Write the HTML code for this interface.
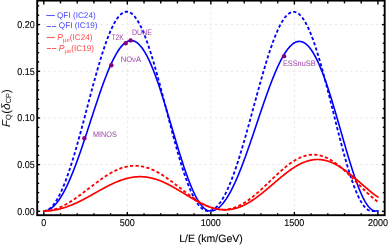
<!DOCTYPE html>
<html><head><meta charset="utf-8"><style>
html,body{margin:0;padding:0;background:#fff;width:389px;height:245px;overflow:hidden}
svg{display:block;font-family:"Liberation Sans",sans-serif;will-change:transform;text-rendering:geometricPrecision}
</style></head><body>
<svg width="389" height="245" viewBox="0 0 389 245">
<g stroke="#ebebeb" stroke-width="1" stroke-dasharray="2.7,2.5" fill="none">
<line x1="127.33" y1="1" x2="127.33" y2="214"/><line x1="210.85" y1="1" x2="210.85" y2="214"/><line x1="294.38" y1="1" x2="294.38" y2="214"/><line x1="38" y1="164.62" x2="384" y2="164.62"/><line x1="38" y1="117.95" x2="384" y2="117.95"/><line x1="38" y1="71.28" x2="384" y2="71.28"/><line x1="38" y1="24.60" x2="384" y2="24.60"/>
</g>
<g fill="none" stroke-linejoin="round">
<path d="M43.50,211.00 L44.17,210.97 L44.84,210.89 L45.51,210.75 L46.18,210.55 L46.85,210.30 L47.52,209.99 L48.19,209.62 L48.86,209.20 L49.53,208.72 L50.20,208.19 L50.87,207.59 L51.54,206.94 L52.21,206.24 L52.88,205.48 L53.55,204.66 L54.22,203.78 L54.89,202.85 L55.56,201.87 L56.23,200.83 L56.90,199.74 L57.57,198.59 L58.24,197.39 L58.91,196.14 L59.58,194.83 L60.25,193.47 L60.92,192.07 L61.59,190.61 L62.26,189.10 L62.93,187.54 L63.60,185.94 L64.27,184.28 L64.94,182.58 L65.61,180.84 L66.28,179.05 L66.95,177.22 L67.62,175.34 L68.29,173.42 L68.96,171.46 L69.63,169.47 L70.30,167.43 L70.97,165.36 L71.64,163.25 L72.31,161.11 L72.98,158.93 L73.65,156.72 L74.32,154.48 L74.99,152.21 L75.66,149.91 L76.33,147.59 L77.00,145.24 L77.67,142.87 L78.34,140.47 L79.01,138.05 L79.68,135.62 L80.35,133.17 L81.02,130.70 L81.69,128.21 L82.36,125.71 L83.03,123.20 L83.70,120.69 L84.37,118.16 L85.04,115.63 L85.71,113.09 L86.38,110.55 L87.05,108.00 L87.72,105.46 L88.39,102.92 L89.06,100.38 L89.73,97.85 L90.40,95.32 L91.07,92.81 L91.74,90.30 L92.41,87.80 L93.08,85.32 L93.75,82.86 L94.42,80.41 L95.09,77.98 L95.76,75.57 L96.43,73.19 L97.10,70.82 L97.77,68.49 L98.44,66.18 L99.11,63.89 L99.78,61.64 L100.45,59.42 L101.12,57.24 L101.79,55.09 L102.46,52.97 L103.13,50.90 L103.80,48.86 L104.47,46.87 L105.14,44.92 L105.81,43.01 L106.48,41.14 L107.15,39.33 L107.82,37.56 L108.49,35.84 L109.16,34.17 L109.83,32.55 L110.50,30.99 L111.17,29.48 L111.84,28.02 L112.51,26.62 L113.18,25.28 L113.85,24.00 L114.52,22.77 L115.19,21.61 L115.86,20.50 L116.53,19.46 L117.20,18.48 L117.87,17.57 L118.54,16.72 L119.21,15.93 L119.88,15.21 L120.55,14.55 L121.22,13.96 L121.89,13.44 L122.56,12.98 L123.23,12.60 L123.90,12.28 L124.57,12.03 L125.24,11.84 L125.91,11.73 L126.58,11.68 L127.25,11.71 L127.92,11.80 L128.59,11.96 L129.26,12.19 L129.93,12.49 L130.60,12.85 L131.27,13.29 L131.94,13.79 L132.61,14.36 L133.28,15.00 L133.95,15.70 L134.62,16.47 L135.29,17.31 L135.96,18.21 L136.63,19.17 L137.30,20.20 L137.97,21.30 L138.64,22.45 L139.31,23.67 L139.98,24.94 L140.65,26.28 L141.32,27.68 L141.99,29.13 L142.66,30.64 L143.33,32.21 L144.00,33.83 L144.67,35.50 L145.34,37.23 L146.01,39.00 L146.68,40.83 L147.35,42.71 L148.02,44.63 L148.69,46.60 L149.36,48.61 L150.03,50.67 L150.70,52.76 L151.37,54.90 L152.04,57.08 L152.71,59.29 L153.38,61.54 L154.05,63.82 L154.72,66.14 L155.39,68.48 L156.06,70.85 L156.73,73.25 L157.40,75.68 L158.07,78.13 L158.74,80.60 L159.41,83.09 L160.08,85.60 L160.75,88.13 L161.42,90.67 L162.09,93.23 L162.76,95.80 L163.43,98.37 L164.10,100.96 L164.77,103.55 L165.44,106.14 L166.11,108.74 L166.78,111.34 L167.45,113.94 L168.12,116.53 L168.79,119.12 L169.46,121.70 L170.13,124.28 L170.80,126.84 L171.47,129.39 L172.14,131.93 L172.81,134.46 L173.48,136.96 L174.15,139.45 L174.82,141.92 L175.49,144.37 L176.16,146.79 L176.83,149.19 L177.50,151.56 L178.17,153.90 L178.84,156.21 L179.51,158.49 L180.18,160.74 L180.85,162.96 L181.52,165.13 L182.19,167.28 L182.86,169.38 L183.53,171.44 L184.20,173.46 L184.87,175.44 L185.54,177.38 L186.21,179.27 L186.88,181.11 L187.55,182.91 L188.22,184.66 L188.89,186.36 L189.56,188.01 L190.23,189.61 L190.90,191.16 L191.57,192.65 L192.24,194.09 L192.91,195.48 L193.58,196.81 L194.25,198.08 L194.92,199.30 L195.59,200.45 L196.26,201.55 L196.93,202.60 L197.60,203.58 L198.27,204.50 L198.94,205.36 L199.61,206.17 L200.28,206.91 L200.95,207.59 L201.62,208.21 L202.29,208.76 L202.96,209.26 L203.63,209.69 L204.30,210.07 L204.97,210.37 L205.64,210.62 L206.31,210.81 L206.98,210.93 L207.65,210.99 L208.32,210.99 L208.99,210.94 L209.66,210.84 L210.33,210.69 L211.00,210.49 L211.67,210.23 L212.34,209.93 L213.01,209.57 L213.68,209.16 L214.35,208.70 L215.02,208.19 L215.69,207.62 L216.36,207.01 L217.03,206.34 L217.70,205.62 L218.37,204.85 L219.04,204.03 L219.71,203.16 L220.38,202.24 L221.05,201.27 L221.72,200.25 L222.39,199.17 L223.06,198.05 L223.73,196.88 L224.40,195.66 L225.07,194.40 L225.74,193.08 L226.41,191.72 L227.08,190.31 L227.75,188.86 L228.42,187.36 L229.09,185.82 L229.76,184.23 L230.43,182.60 L231.10,180.92 L231.77,179.21 L232.44,177.45 L233.11,175.66 L233.78,173.82 L234.45,171.95 L235.12,170.04 L235.79,168.09 L236.46,166.11 L237.13,164.09 L237.80,162.05 L238.47,159.96 L239.14,157.85 L239.81,155.71 L240.48,153.54 L241.15,151.34 L241.82,149.11 L242.49,146.86 L243.16,144.59 L243.83,142.29 L244.50,139.97 L245.17,137.63 L245.84,135.28 L246.51,132.90 L247.18,130.51 L247.85,128.11 L248.52,125.69 L249.19,123.26 L249.86,120.83 L250.53,118.38 L251.20,115.92 L251.87,113.46 L252.54,111.00 L253.21,108.53 L253.88,106.06 L254.55,103.60 L255.22,101.13 L255.89,98.67 L256.56,96.21 L257.23,93.76 L257.90,91.32 L258.57,88.89 L259.24,86.47 L259.91,84.06 L260.58,81.66 L261.25,79.29 L261.92,76.93 L262.59,74.59 L263.26,72.27 L263.93,69.97 L264.60,67.70 L265.27,65.45 L265.94,63.24 L266.61,61.04 L267.28,58.88 L267.95,56.75 L268.62,54.66 L269.29,52.60 L269.96,50.57 L270.63,48.58 L271.30,46.63 L271.97,44.73 L272.64,42.86 L273.31,41.03 L273.98,39.25 L274.65,37.52 L275.32,35.83 L275.99,34.20 L276.66,32.61 L277.33,31.07 L278.00,29.58 L278.67,28.15 L279.34,26.77 L280.01,25.44 L280.68,24.17 L281.35,22.96 L282.02,21.81 L282.69,20.72 L283.36,19.68 L284.03,18.71 L284.70,17.80 L285.37,16.95 L286.04,16.16 L286.71,15.44 L287.38,14.78 L288.05,14.19 L288.72,13.66 L289.39,13.20 L290.06,12.80 L290.73,12.48 L291.40,12.22 L292.07,12.02 L292.74,11.90 L293.41,11.84 L294.08,11.85 L294.75,11.93 L295.42,12.08 L296.09,12.30 L296.76,12.59 L297.43,12.94 L298.10,13.37 L298.77,13.86 L299.44,14.42 L300.11,15.05 L300.78,15.75 L301.45,16.51 L302.12,17.34 L302.79,18.24 L303.46,19.20 L304.13,20.23 L304.80,21.32 L305.47,22.48 L306.14,23.70 L306.81,24.98 L307.48,26.32 L308.15,27.73 L308.82,29.19 L309.49,30.72 L310.16,32.30 L310.83,33.94 L311.50,35.63 L312.17,37.38 L312.84,39.19 L313.51,41.04 L314.18,42.95 L314.85,44.91 L315.52,46.91 L316.19,48.97 L316.86,51.06 L317.53,53.21 L318.20,55.39 L318.87,57.62 L319.54,59.89 L320.21,62.19 L320.88,64.54 L321.55,66.91 L322.22,69.32 L322.89,71.76 L323.56,74.23 L324.23,76.73 L324.90,79.26 L325.57,81.81 L326.24,84.38 L326.91,86.97 L327.58,89.58 L328.25,92.21 L328.92,94.86 L329.59,97.51 L330.26,100.18 L330.93,102.86 L331.60,105.54 L332.27,108.23 L332.94,110.92 L333.61,113.62 L334.28,116.31 L334.95,119.00 L335.62,121.69 L336.29,124.37 L336.96,127.04 L337.63,129.70 L338.30,132.34 L338.97,134.98 L339.64,137.59 L340.31,140.19 L340.98,142.77 L341.65,145.32 L342.32,147.85 L342.99,150.36 L343.66,152.83 L344.33,155.28 L345.00,157.69 L345.67,160.07 L346.34,162.42 L347.01,164.72 L347.68,166.99 L348.35,169.22 L349.02,171.41 L349.69,173.55 L350.36,175.64 L351.03,177.69 L351.70,179.69 L352.37,181.64 L353.04,183.54 L353.71,185.38 L354.38,187.17 L355.05,188.91 L355.72,190.58 L356.39,192.20 L357.06,193.76 L357.73,195.26 L358.40,196.69 L359.07,198.06 L359.74,199.37 L360.41,200.61 L361.08,201.79 L361.75,202.89 L362.42,203.93 L363.09,204.91 L363.76,205.81 L364.43,206.64 L365.10,207.40 L365.77,208.09 L366.44,208.70 L367.11,209.25 L367.78,209.72 L368.45,210.12 L369.12,210.44 L369.79,210.69 L370.46,210.87 L371.13,210.97 L371.80,211.00 L372.47,211.00 L373.14,211.00 L373.81,211.00 L374.48,211.00 L375.15,211.00 L375.82,211.00 L376.49,211.00 L377.16,211.00 L377.83,211.00 L378.50,211.00" stroke="#0000ff" stroke-width="1.85" stroke-dasharray="3.2,2.3"/>
<path d="M43.50,211.00 L44.17,210.98 L44.84,210.92 L45.51,210.81 L46.18,210.67 L46.85,210.48 L47.52,210.26 L48.19,209.99 L48.86,209.67 L49.53,209.32 L50.20,208.93 L50.87,208.49 L51.54,208.01 L52.21,207.49 L52.88,206.92 L53.55,206.32 L54.22,205.67 L54.89,204.98 L55.56,204.25 L56.23,203.48 L56.90,202.67 L57.57,201.81 L58.24,200.92 L58.91,199.99 L59.58,199.01 L60.25,198.00 L60.92,196.95 L61.59,195.86 L62.26,194.73 L62.93,193.56 L63.60,192.36 L64.27,191.11 L64.94,189.83 L65.61,188.52 L66.28,187.17 L66.95,185.79 L67.62,184.37 L68.29,182.91 L68.96,181.43 L69.63,179.91 L70.30,178.36 L70.97,176.78 L71.64,175.17 L72.31,173.53 L72.98,171.86 L73.65,170.17 L74.32,168.45 L74.99,166.70 L75.66,164.92 L76.33,163.13 L77.00,161.31 L77.67,159.46 L78.34,157.60 L79.01,155.71 L79.68,153.81 L80.35,151.89 L81.02,149.95 L81.69,147.99 L82.36,146.02 L83.03,144.04 L83.70,142.04 L84.37,140.03 L85.04,138.01 L85.71,135.98 L86.38,133.94 L87.05,131.90 L87.72,129.85 L88.39,127.79 L89.06,125.73 L89.73,123.67 L90.40,121.61 L91.07,119.54 L91.74,117.48 L92.41,115.42 L93.08,113.37 L93.75,111.32 L94.42,109.27 L95.09,107.24 L95.76,105.21 L96.43,103.19 L97.10,101.18 L97.77,99.19 L98.44,97.21 L99.11,95.25 L99.78,93.30 L100.45,91.37 L101.12,89.46 L101.79,87.56 L102.46,85.69 L103.13,83.85 L103.80,82.02 L104.47,80.22 L105.14,78.45 L105.81,76.70 L106.48,74.99 L107.15,73.30 L107.82,71.64 L108.49,70.02 L109.16,68.43 L109.83,66.87 L110.50,65.35 L111.17,63.87 L111.84,62.42 L112.51,61.01 L113.18,59.64 L113.85,58.31 L114.52,57.02 L115.19,55.78 L115.86,54.57 L116.53,53.42 L117.20,52.30 L117.87,51.24 L118.54,50.22 L119.21,49.24 L119.88,48.32 L120.55,47.44 L121.22,46.62 L121.89,45.84 L122.56,45.12 L123.23,44.45 L123.90,43.83 L124.57,43.26 L125.24,42.74 L125.91,42.28 L126.58,41.87 L127.25,41.52 L127.92,41.22 L128.59,40.98 L129.26,40.80 L129.93,40.66 L130.60,40.59 L131.27,40.57 L131.94,40.61 L132.61,40.70 L133.28,40.85 L133.95,41.06 L134.62,41.32 L135.29,41.64 L135.96,42.02 L136.63,42.45 L137.30,42.94 L137.97,43.48 L138.64,44.08 L139.31,44.73 L139.98,45.44 L140.65,46.21 L141.32,47.03 L141.99,47.90 L142.66,48.82 L143.33,49.80 L144.00,50.83 L144.67,51.91 L145.34,53.04 L146.01,54.23 L146.68,55.46 L147.35,56.74 L148.02,58.07 L148.69,59.45 L149.36,60.87 L150.03,62.34 L150.70,63.85 L151.37,65.40 L152.04,67.00 L152.71,68.64 L153.38,70.32 L154.05,72.04 L154.72,73.80 L155.39,75.59 L156.06,77.42 L156.73,79.29 L157.40,81.18 L158.07,83.11 L158.74,85.07 L159.41,87.06 L160.08,89.08 L160.75,91.13 L161.42,93.19 L162.09,95.29 L162.76,97.40 L163.43,99.54 L164.10,101.70 L164.77,103.87 L165.44,106.06 L166.11,108.27 L166.78,110.49 L167.45,112.72 L168.12,114.96 L168.79,117.21 L169.46,119.46 L170.13,121.73 L170.80,123.99 L171.47,126.26 L172.14,128.53 L172.81,130.80 L173.48,133.06 L174.15,135.32 L174.82,137.58 L175.49,139.83 L176.16,142.06 L176.83,144.29 L177.50,146.51 L178.17,148.71 L178.84,150.89 L179.51,153.06 L180.18,155.21 L180.85,157.34 L181.52,159.45 L182.19,161.53 L182.86,163.59 L183.53,165.63 L184.20,167.63 L184.87,169.61 L185.54,171.55 L186.21,173.46 L186.88,175.34 L187.55,177.18 L188.22,178.99 L188.89,180.76 L189.56,182.49 L190.23,184.18 L190.90,185.83 L191.57,187.43 L192.24,188.99 L192.91,190.50 L193.58,191.97 L194.25,193.39 L194.92,194.77 L195.59,196.09 L196.26,197.36 L196.93,198.58 L197.60,199.75 L198.27,200.86 L198.94,201.92 L199.61,202.92 L200.28,203.87 L200.95,204.77 L201.62,205.60 L202.29,206.38 L202.96,207.09 L203.63,207.75 L204.30,208.35 L204.97,208.89 L205.64,209.37 L206.31,209.79 L206.98,210.14 L207.65,210.44 L208.32,210.67 L208.99,210.84 L209.66,210.95 L210.33,211.00 L211.00,210.99 L211.67,210.93 L212.34,210.83 L213.01,210.68 L213.68,210.49 L214.35,210.26 L215.02,209.98 L215.69,209.65 L216.36,209.28 L217.03,208.87 L217.70,208.41 L218.37,207.91 L219.04,207.37 L219.71,206.78 L220.38,206.15 L221.05,205.48 L221.72,204.77 L222.39,204.01 L223.06,203.21 L223.73,202.37 L224.40,201.49 L225.07,200.57 L225.74,199.61 L226.41,198.62 L227.08,197.58 L227.75,196.50 L228.42,195.39 L229.09,194.24 L229.76,193.05 L230.43,191.83 L231.10,190.57 L231.77,189.28 L232.44,187.95 L233.11,186.59 L233.78,185.20 L234.45,183.77 L235.12,182.32 L235.79,180.83 L236.46,179.32 L237.13,177.77 L237.80,176.20 L238.47,174.59 L239.14,172.97 L239.81,171.31 L240.48,169.63 L241.15,167.93 L241.82,166.20 L242.49,164.45 L243.16,162.68 L243.83,160.89 L244.50,159.08 L245.17,157.25 L245.84,155.41 L246.51,153.54 L247.18,151.66 L247.85,149.77 L248.52,147.86 L249.19,145.94 L249.86,144.01 L250.53,142.06 L251.20,140.11 L251.87,138.14 L252.54,136.17 L253.21,134.20 L253.88,132.21 L254.55,130.23 L255.22,128.24 L255.89,126.24 L256.56,124.25 L257.23,122.25 L257.90,120.26 L258.57,118.26 L259.24,116.28 L259.91,114.29 L260.58,112.31 L261.25,110.34 L261.92,108.37 L262.59,106.41 L263.26,104.46 L263.93,102.52 L264.60,100.60 L265.27,98.68 L265.94,96.79 L266.61,94.90 L267.28,93.03 L267.95,91.18 L268.62,89.35 L269.29,87.54 L269.96,85.74 L270.63,83.97 L271.30,82.22 L271.97,80.50 L272.64,78.80 L273.31,77.12 L273.98,75.48 L274.65,73.86 L275.32,72.27 L275.99,70.70 L276.66,69.17 L277.33,67.67 L278.00,66.21 L278.67,64.78 L279.34,63.38 L280.01,62.01 L280.68,60.69 L281.35,59.40 L282.02,58.15 L282.69,56.94 L283.36,55.76 L284.03,54.63 L284.70,53.54 L285.37,52.50 L286.04,51.49 L286.71,50.53 L287.38,49.61 L288.05,48.74 L288.72,47.92 L289.39,47.14 L290.06,46.41 L290.73,45.72 L291.40,45.09 L292.07,44.50 L292.74,43.96 L293.41,43.47 L294.08,43.04 L294.75,42.65 L295.42,42.32 L296.09,42.03 L296.76,41.80 L297.43,41.62 L298.10,41.50 L298.77,41.42 L299.44,41.40 L300.11,41.44 L300.78,41.53 L301.45,41.67 L302.12,41.86 L302.79,42.11 L303.46,42.42 L304.13,42.77 L304.80,43.18 L305.47,43.65 L306.14,44.17 L306.81,44.74 L307.48,45.37 L308.15,46.05 L308.82,46.79 L309.49,47.58 L310.16,48.42 L310.83,49.31 L311.50,50.26 L312.17,51.25 L312.84,52.30 L313.51,53.40 L314.18,54.55 L314.85,55.75 L315.52,57.00 L316.19,58.30 L316.86,59.64 L317.53,61.04 L318.20,62.48 L318.87,63.96 L319.54,65.49 L320.21,67.07 L320.88,68.68 L321.55,70.34 L322.22,72.05 L322.89,73.79 L323.56,75.57 L324.23,77.39 L324.90,79.25 L325.57,81.14 L326.24,83.07 L326.91,85.03 L327.58,87.03 L328.25,89.05 L328.92,91.11 L329.59,93.19 L330.26,95.31 L330.93,97.45 L331.60,99.61 L332.27,101.79 L332.94,104.00 L333.61,106.23 L334.28,108.47 L334.95,110.74 L335.62,113.02 L336.29,115.31 L336.96,117.61 L337.63,119.93 L338.30,122.25 L338.97,124.58 L339.64,126.92 L340.31,129.26 L340.98,131.60 L341.65,133.94 L342.32,136.28 L342.99,138.62 L343.66,140.95 L344.33,143.27 L345.00,145.59 L345.67,147.89 L346.34,150.18 L347.01,152.46 L347.68,154.72 L348.35,156.96 L349.02,159.18 L349.69,161.38 L350.36,163.55 L351.03,165.70 L351.70,167.82 L352.37,169.91 L353.04,171.97 L353.71,173.99 L354.38,175.98 L355.05,177.93 L355.72,179.85 L356.39,181.72 L357.06,183.55 L357.73,185.33 L358.40,187.07 L359.07,188.76 L359.74,190.40 L360.41,191.99 L361.08,193.53 L361.75,195.01 L362.42,196.44 L363.09,197.80 L363.76,199.11 L364.43,200.36 L365.10,201.54 L365.77,202.66 L366.44,203.72 L367.11,204.71 L367.78,205.63 L368.45,206.48 L369.12,207.26 L369.79,207.97 L370.46,208.61 L371.13,209.18 L371.80,209.67 L372.47,210.08 L373.14,210.42 L373.81,210.68 L374.48,210.87 L375.15,210.97 L375.82,211.00 L376.49,211.00 L377.16,211.00 L377.83,211.00 L378.50,211.00" stroke="#0000ff" stroke-width="1.6"/>
<path d="M43.50,211.00 L44.17,210.99 L44.84,210.97 L45.51,210.94 L46.18,210.90 L46.85,210.84 L47.52,210.77 L48.19,210.69 L48.86,210.59 L49.53,210.49 L50.20,210.37 L50.87,210.23 L51.54,210.09 L52.21,209.94 L52.88,209.77 L53.55,209.59 L54.22,209.40 L54.89,209.20 L55.56,208.99 L56.23,208.76 L56.90,208.53 L57.57,208.28 L58.24,208.03 L58.91,207.76 L59.58,207.48 L60.25,207.20 L60.92,206.90 L61.59,206.59 L62.26,206.28 L62.93,205.95 L63.60,205.62 L64.27,205.27 L64.94,204.92 L65.61,204.56 L66.28,204.19 L66.95,203.81 L67.62,203.43 L68.29,203.03 L68.96,202.63 L69.63,202.22 L70.30,201.81 L70.97,201.39 L71.64,200.96 L72.31,200.52 L72.98,200.08 L73.65,199.63 L74.32,199.18 L74.99,198.72 L75.66,198.25 L76.33,197.78 L77.00,197.31 L77.67,196.83 L78.34,196.35 L79.01,195.86 L79.68,195.37 L80.35,194.88 L81.02,194.38 L81.69,193.88 L82.36,193.37 L83.03,192.87 L83.70,192.36 L84.37,191.85 L85.04,191.34 L85.71,190.82 L86.38,190.31 L87.05,189.79 L87.72,189.28 L88.39,188.76 L89.06,188.25 L89.73,187.73 L90.40,187.21 L91.07,186.70 L91.74,186.18 L92.41,185.67 L93.08,185.16 L93.75,184.65 L94.42,184.14 L95.09,183.64 L95.76,183.13 L96.43,182.63 L97.10,182.13 L97.77,181.64 L98.44,181.15 L99.11,180.66 L99.78,180.18 L100.45,179.70 L101.12,179.23 L101.79,178.76 L102.46,178.29 L103.13,177.84 L103.80,177.38 L104.47,176.93 L105.14,176.49 L105.81,176.06 L106.48,175.63 L107.15,175.20 L107.82,174.79 L108.49,174.38 L109.16,173.98 L109.83,173.58 L110.50,173.20 L111.17,172.82 L111.84,172.45 L112.51,172.09 L113.18,171.73 L113.85,171.39 L114.52,171.05 L115.19,170.73 L115.86,170.41 L116.53,170.10 L117.20,169.80 L117.87,169.51 L118.54,169.23 L119.21,168.96 L119.88,168.70 L120.55,168.45 L121.22,168.21 L121.89,167.98 L122.56,167.77 L123.23,167.56 L123.90,167.36 L124.57,167.18 L125.24,167.00 L125.91,166.84 L126.58,166.69 L127.25,166.55 L127.92,166.42 L128.59,166.30 L129.26,166.19 L129.93,166.10 L130.60,166.02 L131.27,165.95 L131.94,165.89 L132.61,165.84 L133.28,165.80 L133.95,165.78 L134.62,165.77 L135.29,165.77 L135.96,165.78 L136.63,165.80 L137.30,165.84 L137.97,165.89 L138.64,165.95 L139.31,166.02 L139.98,166.10 L140.65,166.19 L141.32,166.30 L141.99,166.42 L142.66,166.55 L143.33,166.69 L144.00,166.84 L144.67,167.01 L145.34,167.18 L146.01,167.37 L146.68,167.57 L147.35,167.78 L148.02,168.00 L148.69,168.23 L149.36,168.47 L150.03,168.72 L150.70,168.98 L151.37,169.26 L152.04,169.54 L152.71,169.83 L153.38,170.14 L154.05,170.45 L154.72,170.77 L155.39,171.10 L156.06,171.44 L156.73,171.79 L157.40,172.15 L158.07,172.52 L158.74,172.90 L159.41,173.28 L160.08,173.68 L160.75,174.08 L161.42,174.48 L162.09,174.90 L162.76,175.32 L163.43,175.75 L164.10,176.19 L164.77,176.63 L165.44,177.08 L166.11,177.54 L166.78,178.00 L167.45,178.47 L168.12,178.94 L168.79,179.42 L169.46,179.90 L170.13,180.39 L170.80,180.88 L171.47,181.38 L172.14,181.88 L172.81,182.38 L173.48,182.89 L174.15,183.40 L174.82,183.91 L175.49,184.42 L176.16,184.94 L176.83,185.46 L177.50,185.97 L178.17,186.50 L178.84,187.02 L179.51,187.54 L180.18,188.06 L180.85,188.58 L181.52,189.11 L182.19,189.63 L182.86,190.15 L183.53,190.67 L184.20,191.19 L184.87,191.70 L185.54,192.22 L186.21,192.73 L186.88,193.24 L187.55,193.75 L188.22,194.25 L188.89,194.75 L189.56,195.25 L190.23,195.74 L190.90,196.23 L191.57,196.71 L192.24,197.19 L192.91,197.66 L193.58,198.13 L194.25,198.59 L194.92,199.05 L195.59,199.50 L196.26,199.94 L196.93,200.38 L197.60,200.81 L198.27,201.23 L198.94,201.64 L199.61,202.05 L200.28,202.44 L200.95,202.83 L201.62,203.21 L202.29,203.59 L202.96,203.95 L203.63,204.30 L204.30,204.65 L204.97,204.98 L205.64,205.30 L206.31,205.62 L206.98,205.92 L207.65,206.21 L208.32,206.49 L208.99,206.76 L209.66,207.02 L210.33,207.27 L211.00,207.51 L211.67,207.73 L212.34,207.94 L213.01,208.15 L213.68,208.33 L214.35,208.51 L215.02,208.67 L215.69,208.82 L216.36,208.96 L217.03,209.09 L217.70,209.20 L218.37,209.30 L219.04,209.39 L219.71,209.46 L220.38,209.52 L221.05,209.56 L221.72,209.60 L222.39,209.62 L223.06,209.62 L223.73,209.61 L224.40,209.59 L225.07,209.56 L225.74,209.51 L226.41,209.44 L227.08,209.37 L227.75,209.28 L228.42,209.17 L229.09,209.06 L229.76,208.92 L230.43,208.78 L231.10,208.62 L231.77,208.45 L232.44,208.26 L233.11,208.06 L233.78,207.85 L234.45,207.62 L235.12,207.38 L235.79,207.13 L236.46,206.86 L237.13,206.59 L237.80,206.29 L238.47,205.99 L239.14,205.67 L239.81,205.34 L240.48,205.00 L241.15,204.65 L241.82,204.28 L242.49,203.91 L243.16,203.52 L243.83,203.12 L244.50,202.71 L245.17,202.28 L245.84,201.85 L246.51,201.40 L247.18,200.95 L247.85,200.49 L248.52,200.01 L249.19,199.53 L249.86,199.03 L250.53,198.53 L251.20,198.02 L251.87,197.49 L252.54,196.96 L253.21,196.43 L253.88,195.88 L254.55,195.33 L255.22,194.77 L255.89,194.20 L256.56,193.62 L257.23,193.04 L257.90,192.45 L258.57,191.86 L259.24,191.26 L259.91,190.66 L260.58,190.05 L261.25,189.43 L261.92,188.82 L262.59,188.19 L263.26,187.57 L263.93,186.94 L264.60,186.31 L265.27,185.67 L265.94,185.04 L266.61,184.40 L267.28,183.76 L267.95,183.11 L268.62,182.47 L269.29,181.83 L269.96,181.19 L270.63,180.54 L271.30,179.90 L271.97,179.26 L272.64,178.62 L273.31,177.98 L273.98,177.34 L274.65,176.71 L275.32,176.08 L275.99,175.45 L276.66,174.82 L277.33,174.20 L278.00,173.58 L278.67,172.97 L279.34,172.36 L280.01,171.76 L280.68,171.16 L281.35,170.57 L282.02,169.99 L282.69,169.41 L283.36,168.83 L284.03,168.27 L284.70,167.71 L285.37,167.16 L286.04,166.62 L286.71,166.09 L287.38,165.56 L288.05,165.05 L288.72,164.54 L289.39,164.05 L290.06,163.56 L290.73,163.09 L291.40,162.62 L292.07,162.17 L292.74,161.72 L293.41,161.29 L294.08,160.87 L294.75,160.46 L295.42,160.07 L296.09,159.68 L296.76,159.31 L297.43,158.95 L298.10,158.61 L298.77,158.28 L299.44,157.96 L300.11,157.65 L300.78,157.36 L301.45,157.09 L302.12,156.83 L302.79,156.58 L303.46,156.34 L304.13,156.13 L304.80,155.92 L305.47,155.73 L306.14,155.56 L306.81,155.40 L307.48,155.26 L308.15,155.13 L308.82,155.02 L309.49,154.92 L310.16,154.84 L310.83,154.78 L311.50,154.73 L312.17,154.69 L312.84,154.68 L313.51,154.68 L314.18,154.69 L314.85,154.72 L315.52,154.77 L316.19,154.83 L316.86,154.91 L317.53,155.00 L318.20,155.11 L318.87,155.24 L319.54,155.38 L320.21,155.54 L320.88,155.71 L321.55,155.90 L322.22,156.11 L322.89,156.33 L323.56,156.56 L324.23,156.81 L324.90,157.08 L325.57,157.36 L326.24,157.65 L326.91,157.96 L327.58,158.28 L328.25,158.62 L328.92,158.97 L329.59,159.34 L330.26,159.72 L330.93,160.11 L331.60,160.51 L332.27,160.93 L332.94,161.36 L333.61,161.81 L334.28,162.26 L334.95,162.73 L335.62,163.21 L336.29,163.70 L336.96,164.21 L337.63,164.72 L338.30,165.24 L338.97,165.78 L339.64,166.32 L340.31,166.88 L340.98,167.44 L341.65,168.01 L342.32,168.59 L342.99,169.18 L343.66,169.78 L344.33,170.38 L345.00,170.99 L345.67,171.61 L346.34,172.24 L347.01,172.87 L347.68,173.51 L348.35,174.15 L349.02,174.80 L349.69,175.45 L350.36,176.11 L351.03,176.77 L351.70,177.43 L352.37,178.10 L353.04,178.77 L353.71,179.44 L354.38,180.12 L355.05,180.79 L355.72,181.47 L356.39,182.15 L357.06,182.83 L357.73,183.50 L358.40,184.18 L359.07,184.86 L359.74,185.53 L360.41,186.21 L361.08,186.88 L361.75,187.55 L362.42,188.21 L363.09,188.87 L363.76,189.53 L364.43,190.19 L365.10,190.84 L365.77,191.48 L366.44,192.12 L367.11,192.76 L367.78,193.38 L368.45,194.00 L369.12,194.62 L369.79,195.23 L370.46,195.83 L371.13,196.42 L371.80,197.00 L372.47,197.57 L373.14,198.14 L373.81,198.70 L374.48,199.24 L375.15,199.78 L375.82,200.30 L376.49,200.82 L377.16,201.32 L377.83,201.81 L378.50,202.30" stroke="#ff0000" stroke-width="1.85" stroke-dasharray="3.2,2.3"/>
<path d="M43.50,211.00 L44.17,211.00 L44.84,210.99 L45.51,210.97 L46.18,210.95 L46.85,210.92 L47.52,210.88 L48.19,210.83 L48.86,210.78 L49.53,210.72 L50.20,210.66 L50.87,210.59 L51.54,210.51 L52.21,210.42 L52.88,210.33 L53.55,210.23 L54.22,210.12 L54.89,210.01 L55.56,209.89 L56.23,209.76 L56.90,209.62 L57.57,209.48 L58.24,209.33 L58.91,209.18 L59.58,209.02 L60.25,208.85 L60.92,208.67 L61.59,208.49 L62.26,208.30 L62.93,208.11 L63.60,207.90 L64.27,207.70 L64.94,207.48 L65.61,207.26 L66.28,207.03 L66.95,206.80 L67.62,206.56 L68.29,206.32 L68.96,206.07 L69.63,205.81 L70.30,205.55 L70.97,205.28 L71.64,205.01 L72.31,204.73 L72.98,204.44 L73.65,204.15 L74.32,203.86 L74.99,203.56 L75.66,203.26 L76.33,202.95 L77.00,202.63 L77.67,202.32 L78.34,202.00 L79.01,201.67 L79.68,201.34 L80.35,201.01 L81.02,200.67 L81.69,200.33 L82.36,199.98 L83.03,199.63 L83.70,199.28 L84.37,198.93 L85.04,198.57 L85.71,198.21 L86.38,197.85 L87.05,197.49 L87.72,197.12 L88.39,196.75 L89.06,196.38 L89.73,196.01 L90.40,195.64 L91.07,195.27 L91.74,194.89 L92.41,194.52 L93.08,194.14 L93.75,193.76 L94.42,193.38 L95.09,193.01 L95.76,192.63 L96.43,192.25 L97.10,191.87 L97.77,191.50 L98.44,191.12 L99.11,190.75 L99.78,190.37 L100.45,190.00 L101.12,189.63 L101.79,189.26 L102.46,188.90 L103.13,188.53 L103.80,188.17 L104.47,187.81 L105.14,187.45 L105.81,187.10 L106.48,186.75 L107.15,186.40 L107.82,186.06 L108.49,185.71 L109.16,185.38 L109.83,185.04 L110.50,184.72 L111.17,184.39 L111.84,184.07 L112.51,183.76 L113.18,183.45 L113.85,183.14 L114.52,182.84 L115.19,182.55 L115.86,182.26 L116.53,181.97 L117.20,181.70 L117.87,181.42 L118.54,181.16 L119.21,180.90 L119.88,180.65 L120.55,180.40 L121.22,180.16 L121.89,179.93 L122.56,179.71 L123.23,179.49 L123.90,179.28 L124.57,179.08 L125.24,178.88 L125.91,178.69 L126.58,178.51 L127.25,178.34 L127.92,178.18 L128.59,178.02 L129.26,177.87 L129.93,177.73 L130.60,177.60 L131.27,177.48 L131.94,177.37 L132.61,177.26 L133.28,177.17 L133.95,177.08 L134.62,177.00 L135.29,176.93 L135.96,176.87 L136.63,176.82 L137.30,176.78 L137.97,176.74 L138.64,176.72 L139.31,176.71 L139.98,176.70 L140.65,176.70 L141.32,176.72 L141.99,176.74 L142.66,176.77 L143.33,176.81 L144.00,176.86 L144.67,176.92 L145.34,176.99 L146.01,177.07 L146.68,177.15 L147.35,177.25 L148.02,177.36 L148.69,177.47 L149.36,177.59 L150.03,177.73 L150.70,177.87 L151.37,178.02 L152.04,178.18 L152.71,178.34 L153.38,178.52 L154.05,178.71 L154.72,178.90 L155.39,179.10 L156.06,179.31 L156.73,179.53 L157.40,179.76 L158.07,179.99 L158.74,180.23 L159.41,180.48 L160.08,180.74 L160.75,181.01 L161.42,181.28 L162.09,181.56 L162.76,181.84 L163.43,182.14 L164.10,182.44 L164.77,182.74 L165.44,183.06 L166.11,183.38 L166.78,183.70 L167.45,184.03 L168.12,184.37 L168.79,184.71 L169.46,185.06 L170.13,185.41 L170.80,185.77 L171.47,186.13 L172.14,186.50 L172.81,186.87 L173.48,187.24 L174.15,187.62 L174.82,188.00 L175.49,188.39 L176.16,188.78 L176.83,189.17 L177.50,189.56 L178.17,189.96 L178.84,190.36 L179.51,190.76 L180.18,191.17 L180.85,191.57 L181.52,191.98 L182.19,192.38 L182.86,192.79 L183.53,193.20 L184.20,193.61 L184.87,194.02 L185.54,194.43 L186.21,194.84 L186.88,195.25 L187.55,195.65 L188.22,196.06 L188.89,196.46 L189.56,196.87 L190.23,197.27 L190.90,197.67 L191.57,198.06 L192.24,198.46 L192.91,198.85 L193.58,199.23 L194.25,199.62 L194.92,200.00 L195.59,200.38 L196.26,200.75 L196.93,201.12 L197.60,201.48 L198.27,201.84 L198.94,202.19 L199.61,202.54 L200.28,202.88 L200.95,203.22 L201.62,203.55 L202.29,203.87 L202.96,204.19 L203.63,204.50 L204.30,204.81 L204.97,205.11 L205.64,205.40 L206.31,205.68 L206.98,205.95 L207.65,206.22 L208.32,206.48 L208.99,206.73 L209.66,206.97 L210.33,207.20 L211.00,207.43 L211.67,207.64 L212.34,207.85 L213.01,208.04 L213.68,208.23 L214.35,208.41 L215.02,208.57 L215.69,208.73 L216.36,208.88 L217.03,209.01 L217.70,209.14 L218.37,209.26 L219.04,209.36 L219.71,209.45 L220.38,209.54 L221.05,209.61 L221.72,209.67 L222.39,209.72 L223.06,209.76 L223.73,209.79 L224.40,209.80 L225.07,209.81 L225.74,209.80 L226.41,209.78 L227.08,209.75 L227.75,209.71 L228.42,209.66 L229.09,209.59 L229.76,209.52 L230.43,209.43 L231.10,209.33 L231.77,209.22 L232.44,209.09 L233.11,208.96 L233.78,208.81 L234.45,208.65 L235.12,208.48 L235.79,208.30 L236.46,208.10 L237.13,207.90 L237.80,207.68 L238.47,207.45 L239.14,207.21 L239.81,206.96 L240.48,206.70 L241.15,206.43 L241.82,206.15 L242.49,205.85 L243.16,205.55 L243.83,205.23 L244.50,204.91 L245.17,204.57 L245.84,204.22 L246.51,203.87 L247.18,203.50 L247.85,203.12 L248.52,202.74 L249.19,202.34 L249.86,201.94 L250.53,201.53 L251.20,201.10 L251.87,200.67 L252.54,200.23 L253.21,199.79 L253.88,199.33 L254.55,198.87 L255.22,198.40 L255.89,197.92 L256.56,197.44 L257.23,196.94 L257.90,196.45 L258.57,195.94 L259.24,195.43 L259.91,194.91 L260.58,194.39 L261.25,193.86 L261.92,193.33 L262.59,192.79 L263.26,192.25 L263.93,191.70 L264.60,191.15 L265.27,190.60 L265.94,190.04 L266.61,189.48 L267.28,188.91 L267.95,188.35 L268.62,187.78 L269.29,187.21 L269.96,186.64 L270.63,186.06 L271.30,185.49 L271.97,184.91 L272.64,184.34 L273.31,183.76 L273.98,183.18 L274.65,182.61 L275.32,182.03 L275.99,181.46 L276.66,180.89 L277.33,180.32 L278.00,179.75 L278.67,179.18 L279.34,178.62 L280.01,178.06 L280.68,177.50 L281.35,176.94 L282.02,176.39 L282.69,175.85 L283.36,175.31 L284.03,174.77 L284.70,174.24 L285.37,173.71 L286.04,173.19 L286.71,172.67 L287.38,172.17 L288.05,171.66 L288.72,171.17 L289.39,170.68 L290.06,170.20 L290.73,169.72 L291.40,169.26 L292.07,168.80 L292.74,168.35 L293.41,167.91 L294.08,167.48 L294.75,167.05 L295.42,166.64 L296.09,166.24 L296.76,165.84 L297.43,165.46 L298.10,165.08 L298.77,164.72 L299.44,164.37 L300.11,164.03 L300.78,163.70 L301.45,163.38 L302.12,163.07 L302.79,162.77 L303.46,162.49 L304.13,162.22 L304.80,161.96 L305.47,161.71 L306.14,161.47 L306.81,161.25 L307.48,161.04 L308.15,160.85 L308.82,160.66 L309.49,160.49 L310.16,160.33 L310.83,160.19 L311.50,160.06 L312.17,159.94 L312.84,159.84 L313.51,159.75 L314.18,159.67 L314.85,159.61 L315.52,159.56 L316.19,159.52 L316.86,159.50 L317.53,159.49 L318.20,159.50 L318.87,159.52 L319.54,159.55 L320.21,159.60 L320.88,159.66 L321.55,159.74 L322.22,159.83 L322.89,159.93 L323.56,160.05 L324.23,160.18 L324.90,160.33 L325.57,160.48 L326.24,160.65 L326.91,160.84 L327.58,161.04 L328.25,161.25 L328.92,161.47 L329.59,161.71 L330.26,161.96 L330.93,162.22 L331.60,162.49 L332.27,162.78 L332.94,163.08 L333.61,163.39 L334.28,163.71 L334.95,164.05 L335.62,164.39 L336.29,164.75 L336.96,165.12 L337.63,165.50 L338.30,165.89 L338.97,166.28 L339.64,166.69 L340.31,167.11 L340.98,167.54 L341.65,167.98 L342.32,168.43 L342.99,168.89 L343.66,169.35 L344.33,169.83 L345.00,170.31 L345.67,170.80 L346.34,171.30 L347.01,171.80 L347.68,172.31 L348.35,172.83 L349.02,173.35 L349.69,173.88 L350.36,174.42 L351.03,174.96 L351.70,175.51 L352.37,176.06 L353.04,176.61 L353.71,177.17 L354.38,177.74 L355.05,178.30 L355.72,178.87 L356.39,179.45 L357.06,180.02 L357.73,180.60 L358.40,181.18 L359.07,181.76 L359.74,182.34 L360.41,182.92 L361.08,183.50 L361.75,184.08 L362.42,184.66 L363.09,185.24 L363.76,185.82 L364.43,186.40 L365.10,186.97 L365.77,187.55 L366.44,188.12 L367.11,188.69 L367.78,189.25 L368.45,189.81 L369.12,190.37 L369.79,190.92 L370.46,191.47 L371.13,192.01 L371.80,192.55 L372.47,193.08 L373.14,193.61 L373.81,194.13 L374.48,194.64 L375.15,195.14 L375.82,195.64 L376.49,196.13 L377.16,196.61 L377.83,197.09 L378.50,197.55" stroke="#ff0000" stroke-width="1.7"/>
</g>
<g fill="#820082">
<circle cx="84.4" cy="138.2" r="2.2"/><circle cx="111.3" cy="65.2" r="2.2"/><circle cx="125.7" cy="43.2" r="2.2"/><circle cx="130.6" cy="40.4" r="2.2"/><circle cx="284.1" cy="56.15" r="2.2"/>
</g>
<g font-size="8" fill="#9c44a4" lengthAdjust="spacingAndGlyphs">
<text x="92.9" y="136.8" textLength="23.9" lengthAdjust="spacingAndGlyphs">MINOS</text>
<text x="120.7" y="62.2" textLength="20.3" lengthAdjust="spacingAndGlyphs">NO&#957;A</text>
<text x="111.4" y="40.4" textLength="12.2" lengthAdjust="spacingAndGlyphs">T2K</text>
<text x="132" y="35" textLength="19.9" lengthAdjust="spacingAndGlyphs">DUNE</text>
<text x="282.9" y="66.1" textLength="32.7" lengthAdjust="spacingAndGlyphs">ESSnuSB</text>
</g>
<g stroke="#000" stroke-width="1.4">
<line x1="43.80" y1="215" x2="43.80" y2="212.00"/><line x1="43.80" y1="1" x2="43.80" y2="4.60"/><line x1="60.50" y1="215" x2="60.50" y2="213.20"/><line x1="60.50" y1="1" x2="60.50" y2="3.40"/><line x1="77.21" y1="215" x2="77.21" y2="213.20"/><line x1="77.21" y1="1" x2="77.21" y2="3.40"/><line x1="93.91" y1="215" x2="93.91" y2="213.20"/><line x1="93.91" y1="1" x2="93.91" y2="3.40"/><line x1="110.62" y1="215" x2="110.62" y2="213.20"/><line x1="110.62" y1="1" x2="110.62" y2="3.40"/><line x1="127.33" y1="215" x2="127.33" y2="212.00"/><line x1="127.33" y1="1" x2="127.33" y2="4.60"/><line x1="144.03" y1="215" x2="144.03" y2="213.20"/><line x1="144.03" y1="1" x2="144.03" y2="3.40"/><line x1="160.74" y1="215" x2="160.74" y2="213.20"/><line x1="160.74" y1="1" x2="160.74" y2="3.40"/><line x1="177.44" y1="215" x2="177.44" y2="213.20"/><line x1="177.44" y1="1" x2="177.44" y2="3.40"/><line x1="194.14" y1="215" x2="194.14" y2="213.20"/><line x1="194.14" y1="1" x2="194.14" y2="3.40"/><line x1="210.85" y1="215" x2="210.85" y2="212.00"/><line x1="210.85" y1="1" x2="210.85" y2="4.60"/><line x1="227.56" y1="215" x2="227.56" y2="213.20"/><line x1="227.56" y1="1" x2="227.56" y2="3.40"/><line x1="244.26" y1="215" x2="244.26" y2="213.20"/><line x1="244.26" y1="1" x2="244.26" y2="3.40"/><line x1="260.96" y1="215" x2="260.96" y2="213.20"/><line x1="260.96" y1="1" x2="260.96" y2="3.40"/><line x1="277.67" y1="215" x2="277.67" y2="213.20"/><line x1="277.67" y1="1" x2="277.67" y2="3.40"/><line x1="294.38" y1="215" x2="294.38" y2="212.00"/><line x1="294.38" y1="1" x2="294.38" y2="4.60"/><line x1="311.08" y1="215" x2="311.08" y2="213.20"/><line x1="311.08" y1="1" x2="311.08" y2="3.40"/><line x1="327.79" y1="215" x2="327.79" y2="213.20"/><line x1="327.79" y1="1" x2="327.79" y2="3.40"/><line x1="344.49" y1="215" x2="344.49" y2="213.20"/><line x1="344.49" y1="1" x2="344.49" y2="3.40"/><line x1="361.19" y1="215" x2="361.19" y2="213.20"/><line x1="361.19" y1="1" x2="361.19" y2="3.40"/><line x1="377.90" y1="215" x2="377.90" y2="212.00"/><line x1="377.90" y1="1" x2="377.90" y2="4.60"/><line x1="37.5" y1="211.30" x2="40.10" y2="211.30"/><line x1="384.5" y1="211.30" x2="381.90" y2="211.30"/><line x1="37.5" y1="201.97" x2="39.20" y2="201.97"/><line x1="384.5" y1="201.97" x2="382.80" y2="201.97"/><line x1="37.5" y1="192.63" x2="39.20" y2="192.63"/><line x1="384.5" y1="192.63" x2="382.80" y2="192.63"/><line x1="37.5" y1="183.30" x2="39.20" y2="183.30"/><line x1="384.5" y1="183.30" x2="382.80" y2="183.30"/><line x1="37.5" y1="173.96" x2="39.20" y2="173.96"/><line x1="384.5" y1="173.96" x2="382.80" y2="173.96"/><line x1="37.5" y1="164.62" x2="40.10" y2="164.62"/><line x1="384.5" y1="164.62" x2="381.90" y2="164.62"/><line x1="37.5" y1="155.29" x2="39.20" y2="155.29"/><line x1="384.5" y1="155.29" x2="382.80" y2="155.29"/><line x1="37.5" y1="145.95" x2="39.20" y2="145.95"/><line x1="384.5" y1="145.95" x2="382.80" y2="145.95"/><line x1="37.5" y1="136.62" x2="39.20" y2="136.62"/><line x1="384.5" y1="136.62" x2="382.80" y2="136.62"/><line x1="37.5" y1="127.29" x2="39.20" y2="127.29"/><line x1="384.5" y1="127.29" x2="382.80" y2="127.29"/><line x1="37.5" y1="117.95" x2="40.10" y2="117.95"/><line x1="384.5" y1="117.95" x2="381.90" y2="117.95"/><line x1="37.5" y1="108.62" x2="39.20" y2="108.62"/><line x1="384.5" y1="108.62" x2="382.80" y2="108.62"/><line x1="37.5" y1="99.28" x2="39.20" y2="99.28"/><line x1="384.5" y1="99.28" x2="382.80" y2="99.28"/><line x1="37.5" y1="89.95" x2="39.20" y2="89.95"/><line x1="384.5" y1="89.95" x2="382.80" y2="89.95"/><line x1="37.5" y1="80.61" x2="39.20" y2="80.61"/><line x1="384.5" y1="80.61" x2="382.80" y2="80.61"/><line x1="37.5" y1="71.28" x2="40.10" y2="71.28"/><line x1="384.5" y1="71.28" x2="381.90" y2="71.28"/><line x1="37.5" y1="61.94" x2="39.20" y2="61.94"/><line x1="384.5" y1="61.94" x2="382.80" y2="61.94"/><line x1="37.5" y1="52.60" x2="39.20" y2="52.60"/><line x1="384.5" y1="52.60" x2="382.80" y2="52.60"/><line x1="37.5" y1="43.27" x2="39.20" y2="43.27"/><line x1="384.5" y1="43.27" x2="382.80" y2="43.27"/><line x1="37.5" y1="33.94" x2="39.20" y2="33.94"/><line x1="384.5" y1="33.94" x2="382.80" y2="33.94"/><line x1="37.5" y1="24.60" x2="40.10" y2="24.60"/><line x1="384.5" y1="24.60" x2="381.90" y2="24.60"/><line x1="37.5" y1="15.27" x2="39.20" y2="15.27"/><line x1="384.5" y1="15.27" x2="382.80" y2="15.27"/><line x1="37.5" y1="5.93" x2="39.20" y2="5.93"/><line x1="384.5" y1="5.93" x2="382.80" y2="5.93"/>
</g>
<rect x="37.2" y="0.6" width="347.5" height="214.6" fill="none" stroke="#000" stroke-width="1.9"/>
<g font-size="9.9" fill="#000" stroke="#000" stroke-width="0.12">
<text x="17.20" y="214.70" textLength="17.5" lengthAdjust="spacingAndGlyphs">0.00</text><text x="17.20" y="168.03" textLength="17.5" lengthAdjust="spacingAndGlyphs">0.05</text><text x="17.20" y="121.35" textLength="17.5" lengthAdjust="spacingAndGlyphs">0.10</text><text x="17.20" y="74.68" textLength="17.5" lengthAdjust="spacingAndGlyphs">0.15</text><text x="17.20" y="28.00" textLength="17.5" lengthAdjust="spacingAndGlyphs">0.20</text>
<text x="41.30" y="226" textLength="5.00" lengthAdjust="spacingAndGlyphs">0</text><text x="119.82" y="226" textLength="15.01" lengthAdjust="spacingAndGlyphs">500</text><text x="200.84" y="226" textLength="20.02" lengthAdjust="spacingAndGlyphs">1000</text><text x="284.37" y="226" textLength="20.02" lengthAdjust="spacingAndGlyphs">1500</text><text x="367.89" y="226" textLength="20.02" lengthAdjust="spacingAndGlyphs">2000</text>
</g>
<text x="211" y="242.2" font-size="10.5" fill="#000" stroke="#000" stroke-width="0.1" text-anchor="middle">L/E (km/GeV)</text>
<g transform="rotate(-90)" fill="#111">
<text x="-127.0" y="9.9" font-size="11.5"><tspan font-style="italic" font-size="11.5">F</tspan><tspan font-size="7.5" dy="1.5">Q</tspan><tspan dy="-1.5" dx="0.3">(</tspan><tspan font-style="italic" font-size="12">&#948;</tspan><tspan font-size="7.5" dy="1.5">CP</tspan><tspan dy="-1.5">)</tspan></text>
</g>
<g font-size="8.2">
<line x1="46.3" y1="15.5" x2="54.9" y2="15.5" stroke="#5c5cff" stroke-width="1.1"/>
<text x="57" y="18" fill="#4848ff">QFI (IC24)</text>
<line x1="46.8" y1="26.5" x2="56.1" y2="26.5" stroke="#5c5cff" stroke-width="1.1" stroke-dasharray="4.1,1.1"/>
<text x="58.8" y="28" fill="#4848ff">QFI (IC19)</text>
<line x1="46.7" y1="37.5" x2="54.7" y2="37.5" stroke="#ff5c5c" stroke-width="1.1"/>
<text x="57.3" y="39.6" fill="#ff4848"><tspan font-style="italic" font-size="8.6">P</tspan><tspan font-size="6" dy="2">&#956;e</tspan><tspan dy="-2">(IC24)</tspan></text>
<line x1="46.8" y1="48.5" x2="56.1" y2="48.5" stroke="#ff5c5c" stroke-width="1.1" stroke-dasharray="4.1,1.1"/>
<text x="58.8" y="50.9" fill="#ff4848"><tspan font-style="italic" font-size="8.6">P</tspan><tspan font-size="6" dy="2">&#956;e</tspan><tspan dy="-2">(IC19)</tspan></text>
</g>
</svg>
</body></html>
